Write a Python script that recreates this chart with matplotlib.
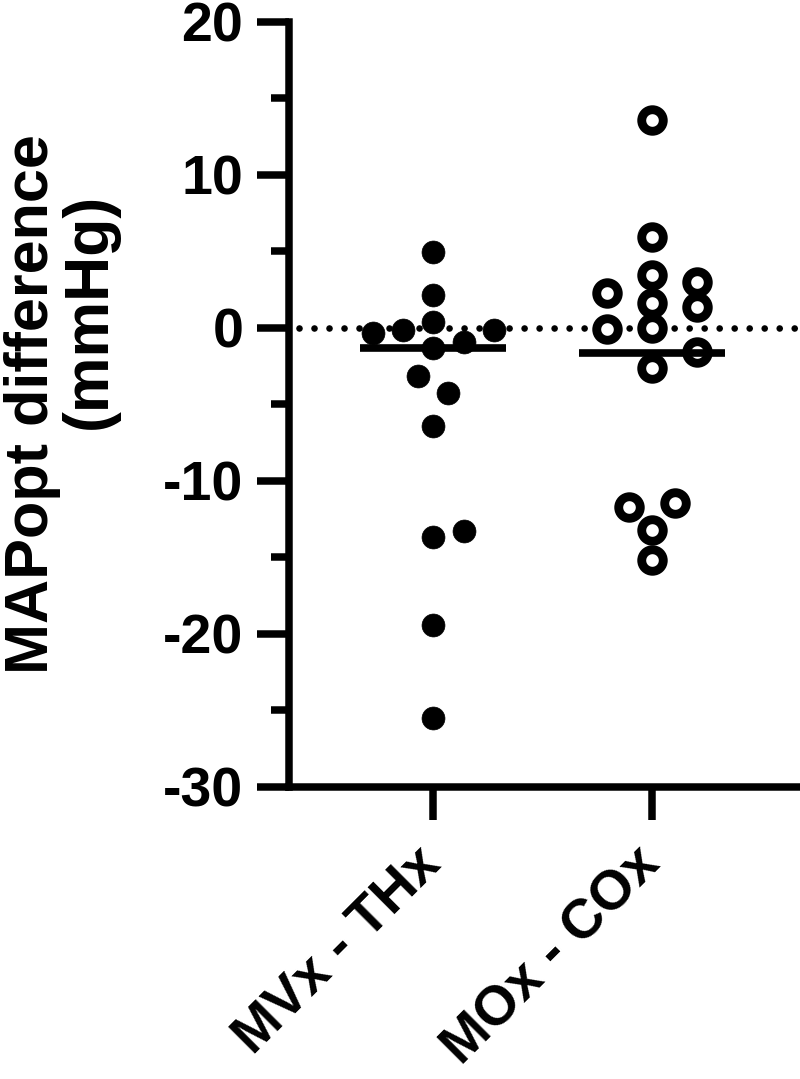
import numpy as np
import matplotlib
matplotlib.use("Agg")
import matplotlib.pyplot as plt
from matplotlib.ticker import MultipleLocator

plt.rcParams['font.family'] = ['Liberation Sans', 'DejaVu Sans']
plt.rcParams['font.weight'] = 'bold'
plt.rcParams['axes.unicode_minus'] = False

# data
groups = ['MVx - THx', 'MOx - COx']
mvx_thx = [4.98, 2.15, 0.40, -0.32, -0.14, -0.14, -0.91, -1.30, -3.15, -4.28,
           -6.42, -13.66, -13.29, -19.44, -25.54]
mvx_thx_jitter = [0, 0, 0, -0.273, -0.136, 0.28, 0.14, 0, -0.07, 0.07,
                  0, 0, 0.14, 0, 0]
mox_cox = [13.59, 5.96, 3.45, 2.26, 3.02, 1.60, 1.38, -0.10, -0.03, -1.56,
           -2.65, -11.70, -11.48, -13.22, -15.18]
mox_cox_jitter = [0, 0, 0, -0.205, 0.206, 0, 0.206, -0.205, 0, 0.206,
                  0, -0.103, 0.104, 0, 0]
center_lines = [-1.30, -1.67]

W, H = 800, 1079
fig = plt.figure(figsize=(W / 100, H / 100), dpi=100)
ax = fig.add_axes([289 / W, 1 - 786.5 / H, 1 - 289 / W, (786.5 - 22) / H])

lw = 5.4
ax.axhline(0, xmin=0.02, xmax=1, color='black', lw=4.8,
           linestyle=(0, (0.001, 2.25)), dash_capstyle='round', zorder=1)

ax.plot(np.array(mvx_thx_jitter) + 0, mvx_thx, 'o', color='black', ms=16.5,
        mew=0.5, zorder=3, clip_on=False)
ax.plot(np.array(mox_cox_jitter) + 1, mox_cox, 'o', mfc='white', mec='black',
        ms=15.5, mew=6.4, zorder=3, clip_on=False)

for i, m in enumerate(center_lines):
    ax.plot([i - 0.333, i + 0.333], [m, m], color='black', lw=5.5,
            solid_capstyle='butt', zorder=4)

ax.set_xlim(-0.658, 1.676)
ax.set_ylim(-30, 20)

for s in ['top', 'right']:
    ax.spines[s].set_visible(False)
for s in ['left', 'bottom']:
    ax.spines[s].set_linewidth(lw)

ax.yaxis.set_major_locator(MultipleLocator(10))
ax.yaxis.set_minor_locator(MultipleLocator(5))
ax.tick_params(axis='y', which='major', length=23, width=lw, pad=10,
               labelsize=40)
ax.tick_params(axis='y', which='minor', length=13, width=lw)
ax.tick_params(axis='x', which='major', length=24, width=lw, pad=26,
               labelsize=40)
ax.set_xticks([0, 1])
ax.set_xticklabels(groups, rotation=45, ha='right', va='center',
                   rotation_mode='anchor')

fig.text(48 / W, 1 - 404 / H, 'MAPopt difference', rotation=90,
         rotation_mode='anchor', ha='center', va='baseline', fontsize=44,
         fontweight='bold')
fig.text(106 / W, 1 - 311 / H, '(mmHg)', rotation=90,
         rotation_mode='anchor', ha='center', va='baseline', fontsize=45,
         fontweight='bold')

fig.savefig('out.png', dpi=100)
